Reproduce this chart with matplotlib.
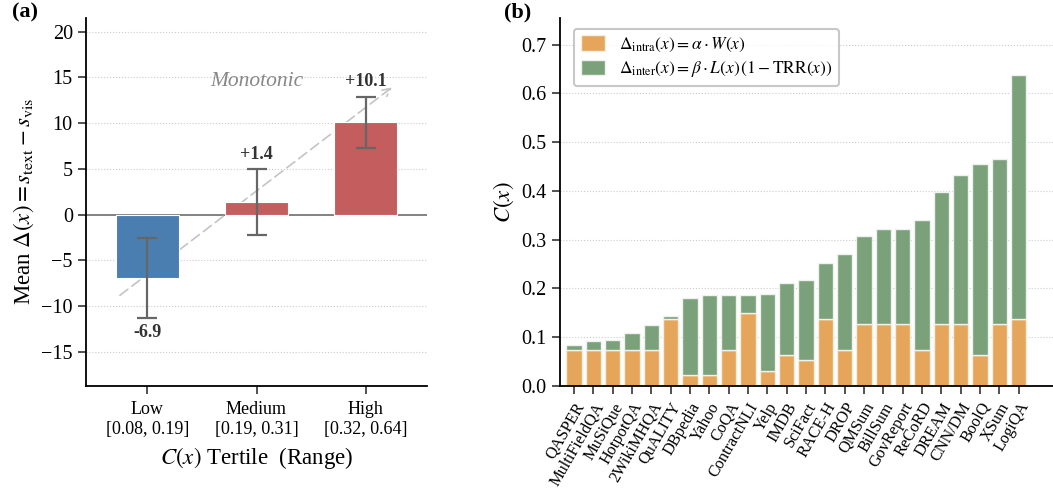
import matplotlib

matplotlib.use("Agg")
import matplotlib.pyplot as plt
from matplotlib.patches import FancyArrowPatch

plt.rcParams["font.family"] = ["Liberation Serif", "DejaVu Serif"]
plt.rcParams["mathtext.fontset"] = "stix"

# panel (a): mean delta per C(x) tertile
tertiles = ["Low\n[0.08, 0.19]", "Medium\n[0.19, 0.31]", "High\n[0.32, 0.64]"]
delta_mean = [-6.9, 1.4, 10.1]
delta_err = [4.4, 3.6, 2.8]
delta_labels = ["-6.9", "+1.4", "+10.1"]

# panel (b): stacked C(x) components per dataset
datasets = [
    "QASPER", "MultiFieldQA", "MuSiQue", "HotpotQA", "2WikiMHQA", "QuALITY",
    "DBpedia", "Yahoo", "CoQA", "ContractNLI", "Yelp", "IMDB", "SciFact",
    "RACE-H", "DROP", "QMSum", "BillSum", "GovReport", "ReCoRD", "DREAM",
    "CNN/DM", "BoolQ", "XSum", "LogiQA",
]
c_total = [
    0.084, 0.091, 0.093, 0.108, 0.125, 0.144, 0.181, 0.186, 0.187, 0.187,
    0.189, 0.211, 0.218, 0.251, 0.271, 0.308, 0.321, 0.321, 0.341, 0.398,
    0.433, 0.456, 0.466, 0.638,
]
c_intra = [
    0.074, 0.074, 0.074, 0.074, 0.074, 0.138, 0.021, 0.021, 0.074, 0.149,
    0.031, 0.063, 0.053, 0.138, 0.074, 0.127, 0.127, 0.127, 0.074, 0.127,
    0.127, 0.063, 0.127, 0.138,
]
c_inter = [t - i for t, i in zip(c_total, c_intra)]

BLUE = "#4a7eb0"
RED = "#c45e5e"
ORANGE = "#e5a65b"
GREEN = "#7ba17b"
GRID = dict(axis="y", linestyle=":", color="#cccccc", linewidth=0.8)

fig = plt.figure(figsize=(10.53, 4.88), dpi=100)
ax_a = fig.add_axes([0.0817, 0.2096, 0.3238, 0.7535])
ax_b = fig.add_axes([0.5318, 0.2096, 0.4682, 0.7535])

# ---- (a)
xs = range(len(tertiles))
colors = [BLUE if m < 0 else RED for m in delta_mean]
ax_a.axhline(0, color="#7a7a7a", linewidth=1.3, zorder=1)
ax_a.bar(xs, delta_mean, width=0.58, color=colors, edgecolor="white",
         linewidth=0.8, zorder=2)
ax_a.errorbar(xs, delta_mean, yerr=delta_err, fmt="none", ecolor="#666666",
              elinewidth=1.6, capsize=7, capthick=1.6, zorder=3)
for x, m, e, lab in zip(xs, delta_mean, delta_err, delta_labels):
    if m >= 0:
        ax_a.text(x, m + e + 0.7, lab, ha="center", va="bottom",
                  fontsize=13, fontweight="bold", color="#333333")
    else:
        ax_a.text(x, m - e - 0.6, lab, ha="center", va="top",
                  fontsize=13, fontweight="bold", color="#333333")

arrow = FancyArrowPatch((-0.27, -9.0), (2.26, 14.1), arrowstyle="->",
                        mutation_scale=14, linestyle=(0, (6, 3)),
                        color="#c4c4c4", linewidth=1.2, zorder=1.5)
ax_a.add_patch(arrow)
ax_a.text(1.0, 14.6, "Monotonic", ha="center", va="center", fontsize=15.5,
          style="italic", color="#888888")

ax_a.set_xlim(-0.56, 2.56)
ax_a.set_ylim(-18.7, 21.5)
ax_a.set_yticks([-15, -10, -5, 0, 5, 10, 15, 20])
ax_a.set_yticklabels(["\u221215", "\u221210", "\u22125", "0", "5", "10", "15", "20"])
ax_a.set_xticks(list(xs))
ax_a.set_xticklabels(tertiles, fontsize=13, linespacing=1.2)
ax_a.set_ylabel(r"Mean $\Delta(x) = s_{\mathrm{text}} - s_{\mathrm{vis}}$",
                fontsize=16.5, labelpad=4)
ax_a.set_xlabel(r"$C(x)$ Tertile  (Range)", fontsize=16.5, labelpad=5)
ax_a.grid(**GRID)
ax_a.set_axisbelow(True)
ax_a.tick_params(axis="y", labelsize=14.5)
ax_a.tick_params(axis="x", pad=5)

# ---- (b)
xb = range(len(datasets))
ax_b.bar(xb, c_intra, width=0.8, color=ORANGE, edgecolor="#f5efe0",
         linewidth=1.0, zorder=2,
         label=r"$\Delta_{\mathrm{intra}}(x) = \alpha \cdot W(x)$")
ax_b.bar(xb, c_inter, bottom=c_intra, width=0.8, color=GREEN,
         edgecolor="#eef2ee", linewidth=1.0, zorder=2,
         label=r"$\Delta_{\mathrm{inter}}(x) = \beta \cdot L(x)\,(1 - \mathrm{TRR}(x))$")
ax_b.set_xlim(-0.72, 24.78)
ax_b.set_ylim(0, 0.755)
ax_b.set_yticks([0.0, 0.1, 0.2, 0.3, 0.4, 0.5, 0.6, 0.7])
ax_b.set_xticks(list(xb))
ax_b.set_xticklabels(datasets, rotation=60, ha="right", rotation_mode="anchor",
                     fontsize=11.7)
ax_b.set_ylabel(r"$C(x)$", fontsize=16.5, labelpad=4)
ax_b.grid(**GRID)
ax_b.set_axisbelow(True)
ax_b.tick_params(axis="y", labelsize=14.5)
ax_b.tick_params(axis="x", pad=4)
leg = ax_b.legend(loc="upper left", bbox_to_anchor=(0.01, 0.995), fontsize=12.5,
                  frameon=True, fancybox=True, edgecolor="#bbbbbb",
                  handlelength=1.4, handleheight=1.0, borderpad=0.4,
                  labelspacing=0.3)
leg.get_frame().set_linewidth(1.5)

for ax in (ax_a, ax_b):
    for side in ("top", "right"):
        ax.spines[side].set_visible(False)
    for side in ("left", "bottom"):
        ax.spines[side].set_linewidth(1.3)
    ax.tick_params(direction="out", length=6, width=1.2, color="#333333")

fig.text(0.011, 0.995, "(a)", fontsize=16, fontweight="bold", va="top")
fig.text(0.479, 0.995, "(b)", fontsize=16, fontweight="bold", va="top")

fig.savefig("out.png", dpi=100)
